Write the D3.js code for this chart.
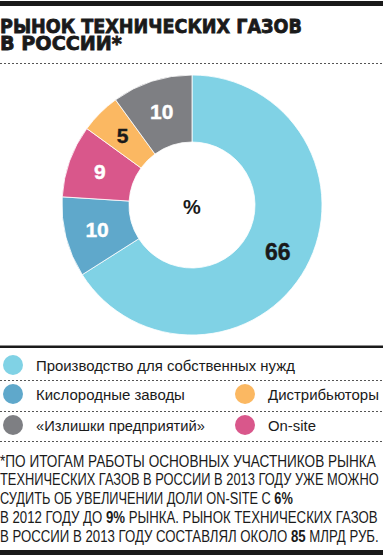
<!DOCTYPE html>
<html><head><meta charset="utf-8">
<script src="https://cdn.jsdelivr.net/npm/d3@7"></script>
<style>
html,body{margin:0;padding:0;background:#fff;}
svg{display:block;}
</style></head>
<body>
<svg id="c" width="383" height="555"></svg>
<script>
const categories = ["Производство для собственных нужд","Кислородные заводы","On-site","Дистрибьюторы","«Излишки предприятий»"];
const values = [66, 10, 9, 5, 10];
const colors = ["#80d2e5","#5fa8cb","#d9578b","#fbb862","#7e7f83"];
const labelColors = ["#1a1a1a","#ffffff","#ffffff","#1a1a1a","#ffffff"];
const legendOrder = [[0],[1,3],[4,2]];
const legendWidths = [259, 149, 48, 111, 169];
const titleLines = ["РЫНОК ТЕХНИЧЕСКИХ ГАЗОВ","В РОССИИ*"];
const noteLines = [
  [["*ПО ИТОГАМ РАБОТЫ ОСНОВНЫХ УЧАСТНИКОВ РЫНКА",false]],
  [["ТЕХНИЧЕСКИХ ГАЗОВ В РОССИИ В 2013 ГОДУ УЖЕ МОЖНО",false]],
  [["СУДИТЬ ОБ УВЕЛИЧЕНИИ ДОЛИ ON-SITE С ",false],["6%",true]],
  [["В 2012 ГОДУ ДО ",false],["9%",true],[" РЫНКА. РЫНОК ТЕХНИЧЕСКИХ ГАЗОВ",false]],
  [["В РОССИИ В 2013 ГОДУ СОСТАВЛЯЛ ОКОЛО ",false],["85",true],[" МЛРД РУБ.",false]]
];
const noteWidths = [376, 379, 293, 378, 379];

const svg = d3.select("#c");
const W = 383;
const sans = "'Liberation Sans',Arial,sans-serif";

function fit(sel, x, y, target){
  const w = sel.node().getComputedTextLength();
  const k = w > 0 ? target / w : 1;
  sel.attr("x",0).attr("y",0).attr("transform",`translate(${x},${y}) scale(${k},1)`);
}

// top bar
svg.append("rect").attr("x",0).attr("y",1).attr("width",W).attr("height",5).attr("fill","#1a1a1a");

// title
const titleW = [302, 122];
titleLines.forEach((t,i)=>{
  const el = svg.append("text")
    .attr("font-family","'DejaVu Sans',sans-serif").attr("font-weight","bold")
    .attr("font-size",19.5).attr("fill","#1a1a1a")
    .attr("stroke","#1a1a1a").attr("stroke-width",0.8).text(t);
  fit(el, 0, 32.7 + i*17.3, titleW[i]);
});

function dashed(y){
  svg.append("line").attr("x1",0).attr("x2",W).attr("y1",y).attr("y2",y)
    .attr("stroke","#555").attr("stroke-width",1).attr("stroke-dasharray","2,2");
}
dashed(63.5);

// donut
const cx = 192, cy = 205, R = 130, r0 = 63;
const pie = d3.pie().sort(null).value(d=>d).startAngle(0).endAngle(2*Math.PI);
const arcs = pie(values);
const arc = d3.arc().innerRadius(r0).outerRadius(R);
const labelArc = d3.arc().innerRadius(98).outerRadius(98);
const g = svg.append("g").attr("transform",`translate(${cx},${cy})`);
g.selectAll("path").data(arcs).enter().append("path")
  .attr("d",arc).attr("fill",(d,i)=>colors[i]).attr("stroke","#fff").attr("stroke-width",0.8);
g.selectAll("text.lbl").data(arcs).enter().append("text").attr("class","lbl")
  .attr("transform",d=>`translate(${labelArc.centroid(d)})`)
  .attr("text-anchor","middle").attr("dy","0.36em")
  .attr("font-family",sans).attr("font-weight","bold")
  .attr("font-size",(d,i)=>i===0?23:21).attr("fill",(d,i)=>labelColors[i])
  .attr("stroke",(d,i)=>labelColors[i]).attr("stroke-width",0.4).text(d=>d.data);
g.append("text").attr("text-anchor","middle").attr("dy","0.36em").attr("y",2)
  .attr("font-family",sans).attr("font-weight","bold")
  .attr("font-size",20).attr("fill","#1a1a1a").text("%");

// legend
svg.append("rect").attr("x",0).attr("y",345.5).attr("width",W).attr("height",2.5).attr("fill","#1a1a1a");
const rowY = [365, 394, 425];
const colX = [13, 245];
legendOrder.forEach((row,ri)=>{
  row.forEach((ci,cj)=>{
    svg.append("circle").attr("cx",colX[cj]).attr("cy",rowY[ri]).attr("r",10).attr("fill",colors[ci]);
    const t = svg.append("text").attr("font-family",sans).attr("font-size",15.5)
      .attr("fill","#1a1a1a").text(categories[ci]);
    fit(t, colX[cj]+23, rowY[ri]+5.5, legendWidths[ci]);
  });
});
dashed(380.5);
dashed(411.5);
dashed(441.5);

// footnote
noteLines.forEach((line,i)=>{
  const t = svg.append("text").attr("font-family",sans).attr("font-size",16.5).attr("fill","#1a1a1a");
  line.forEach(([s,b])=>{
    t.append("tspan").attr("font-weight",b?"bold":"normal").text(s);
  });
  fit(t, 0, 466.7 + i*18.75, noteWidths[i]);
});

svg.append("rect").attr("x",0).attr("y",550).attr("width",W).attr("height",5).attr("fill","#1a1a1a");
</script>
</body></html>
